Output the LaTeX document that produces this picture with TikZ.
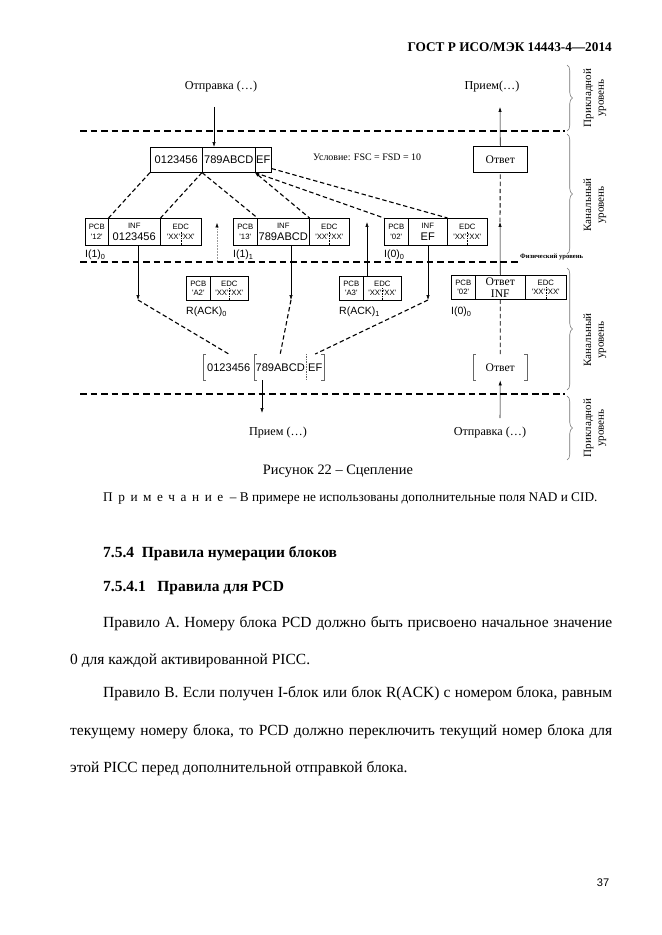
\documentclass[tikz,border=0pt]{standalone}
\usepackage{fontspec}
\setmainfont{Liberation Serif}
\setsansfont{Liberation Sans}
\usetikzlibrary{arrows.meta, decorations.pathreplacing, positioning}
\newlength{\pxl}
\setlength{\pxl}{0.3177mm}
\newcommand{\qt}[1]{\textquotesingle#1\textquotesingle}
\tikzset{
  cell/.style={draw, line width=0.5pt, inner sep=0pt, anchor=north west, align=center, font=\sffamily\fontsize{7}{8.5}\selectfont},
  frame/.style={cell, minimum height=25\pxl, font=\sffamily\fontsize{10}{12}\selectfont},
  blk/.style={cell, minimum height=27\pxl},
  ack/.style={cell, minimum height=24\pxl},
  brk/.style={line width=0.5pt, draw=black!60},
  lvl/.style={line width=1.1pt, dash pattern=on 6pt off 3.5pt},
  frag/.style={line width=1pt, dash pattern=on 4pt off 2.5pt},
  arr/.style={-{Latex[length=4.5pt,width=3pt]}, line width=0.5pt},
  lbl/.style={anchor=west, inner sep=0pt, font=\sffamily\fontsize{9.5}{11}\selectfont},
  appl/.style={inner sep=0pt, font=\fontsize{11}{13}\selectfont},
  lvlbrace/.style={decorate, decoration={brace, amplitude=5pt}, draw=black!55, line width=0.5pt},
  lvltext/.style={rotate=90, align=center, inner sep=0pt, font=\fontsize{10}{11.5}\selectfont},
  body/.style={anchor=base west, inner sep=0pt, font=\fontsize{14}{16}\selectfont},
}
\begin{document}
\begin{tikzpicture}[x=0.3177mm, y=-0.3177mm]
  \useasboundingbox (0,0) rectangle (661,935);
  \node[anchor=base east, inner sep=0pt, font=\bfseries\fontsize{12}{14}\selectfont] (head) at (612,52) {ГОСТ Р ИСО/МЭК 14443-4—2014};

  \coordinate (L1w) at (80,131);
  \coordinate (L1e) at (565,131);
  \coordinate (L2w) at (80,262);
  \coordinate (L2e) at (518,262);
  \coordinate (L3w) at (80,394);
  \coordinate (L3e) at (565,394);
  \draw[lvl] (L1w) -- (L1e);
  \draw[lvl] (L2w) -- (L2e);
  \draw[lvl] (L3w) -- (L3e);
  \node[anchor=west, inner sep=0pt, font=\bfseries\fontsize{6}{7}\selectfont] (phys) at (520,257) {Физический уровень};

  \draw[lvlbrace] (567,65) -- (567,131);
  \draw[lvlbrace] (567,134) -- (567,254);
  \draw[lvlbrace] (567,268) -- (567,390);
  \draw[lvlbrace] (567,396) -- (567,460);
  \node[lvltext] (br1) at (595,98) {Прикладной\\уровень};
  \node[lvltext] (br2) at (595,205) {Канальный\\уровень};
  \node[lvltext] (br3) at (595,340) {Канальный\\уровень};
  \node[lvltext] (br4) at (595,428) {Прикладной\\уровень};

  % top level
  \node[appl] (sendT) at (221,87) {Отправка (…)};
  \node[appl] (recvT) at (492,87) {Прием(…)};
  \coordinate (sendS) at (214,107);
  \coordinate (recvS) at (500,107);

  \node[frame, minimum width=52\pxl] (fA) at (150,147) {0123456};
  \node[frame, minimum width=53\pxl] (fB) at (202,147) {789ABCD};
  \node[frame, minimum width=16\pxl] (fC) at (255,147) {EF};
  \node[anchor=west, inner sep=0pt, font=\fontsize{9}{10}\selectfont] (cond) at (313,157) {Условие: FSC = FSD = 10};
  \node[cell, minimum width=54\pxl, minimum height=26\pxl, font=\fontsize{10.5}{12}\selectfont] (ansT) at (473,146) {Ответ};

  \draw[arr] (sendS) -- (sendS |- fB.north);
  \draw[arr] (ansT.north) -- (recvS);

  % I-blocks
  \node[blk, minimum width=23\pxl] (pcbA) at (85,218) {PCB\\\qt{12}};
  \node[blk, minimum width=52\pxl] (infA) at (108,218) {INF\\[2.5pt]{\fontsize{10}{11}\selectfont 0123456}};
  \node[blk, minimum width=41\pxl] (edcA) at (160,218) {EDC\\\qt{XX}\,\qt{XX}};
  \node[blk, minimum width=24\pxl] (pcbB) at (233,218) {PCB\\\qt{13}};
  \node[blk, minimum width=52\pxl] (infB) at (257,218) {INF\\[2.5pt]{\fontsize{10}{11}\selectfont 789ABCD}};
  \node[blk, minimum width=40\pxl] (edcB) at (309,218) {EDC\\\qt{XX}\,\qt{XX}};
  \node[blk, minimum width=24\pxl] (pcbC) at (384,218) {PCB\\\qt{02}};
  \node[blk, minimum width=39\pxl] (infC) at (408,218) {INF\\[2.5pt]{\fontsize{10}{11}\selectfont EF}};
  \node[blk, minimum width=40\pxl] (edcC) at (447,218) {EDC\\\qt{XX}\,\qt{XX}};
  \draw[densely dotted, line width=0.4pt] (edcA.center) -- (edcA.south);
  \draw[densely dotted, line width=0.4pt] (edcB.center) -- (edcB.south);
  \draw[densely dotted, line width=0.4pt] (edcC.center) -- (edcC.south);
  \node[lbl] (labA) at (85,255) {I(1)\textsubscript{0}};
  \node[lbl] (labB) at (233,255) {I(1)\textsubscript{1}};
  \node[lbl] (labC) at (384,255) {I(0)\textsubscript{0}};

  \draw[frag] (fA.south west) -- (pcbA.north east);
  \draw[frag] (fB.south west) -- (infA.north east);
  \draw[frag] (fB.south west) -- (pcbB.north east);
  \draw[frag, {Latex[length=4pt,width=3pt]}-] (fC.south west) -- (infB.north east);
  \draw[frag] (fC.south west) -- (pcbC.north west);
  \draw[frag] ([yshift=4\pxl]fC.south east) -- (infC.north east);

  % R(ACK) and answer blocks
  \node[ack, minimum width=24\pxl] (pcbR0) at (186,276) {PCB\\\qt{A2}};
  \node[ack, minimum width=38\pxl] (edcR0) at (210,276) {EDC\\\qt{XX}\,\qt{XX}};
  \node[ack, minimum width=24\pxl] (pcbR1) at (339,276) {PCB\\\qt{A3}};
  \node[ack, minimum width=38\pxl] (edcR1) at (363,276) {EDC\\\qt{XX}\,\qt{XX}};
  \node[ack, minimum width=24\pxl] (pcbI) at (451,275) {PCB\\\qt{02}};
  \node[ack, minimum width=50\pxl, font=\fontsize{10.5}{11}\selectfont] (respI) at (475,275) {Ответ\\INF};
  \node[ack, minimum width=41\pxl] (edcI) at (525,275) {EDC\\\qt{XX}\,\qt{XX}};
  \draw[densely dotted, line width=0.4pt] (edcR0.center) -- (edcR0.south);
  \draw[densely dotted, line width=0.4pt] (edcR1.center) -- (edcR1.south);
  \draw[densely dotted, line width=0.4pt] (edcI.center) -- (edcI.south);
  \node[lbl] (labR0) at (186,312) {R(ACK)\textsubscript{0}};
  \node[lbl] (labR1) at (339,312) {R(ACK)\textsubscript{1}};
  \node[lbl] (labI) at (451,312) {I(0)\textsubscript{0}};

  \coordinate (up0) at (217,223);
  \coordinate (up0b) at (217,262);
  \coordinate (up1) at (367,222);
  \coordinate (up2) at (500,222);
  \coordinate (d1) at (138,300);
  \coordinate (d2) at (291,300);
  \coordinate (d3) at (428,300);
  \draw[densely dotted, draw=black!40, line width=0.4pt, -{Latex[length=4pt,width=3pt,color=black]}] (up0b) -- (up0);
  \draw[arr] (up1 |- edcR1.north) -- (up1);
  \draw[arr] (respI.north) -- (up2);
  \draw[frag, line width=0.8pt] (up2) -- (ansT.south);
  \draw[arr] (d1 |- infA.south) -- (d1);
  \draw[arr] (d2 |- infB.south) -- (d2);
  \draw[arr] (infC.south -| d3) -- (d3);

  % reassembled frame
  \node[inner sep=0pt, minimum width=51\pxl, minimum height=26\pxl, anchor=north west, font=\sffamily\fontsize{10}{12}\selectfont] (rA) at (203,354) {0123456};
  \node[inner sep=0pt, minimum width=52\pxl, minimum height=26\pxl, anchor=north west, font=\sffamily\fontsize{10}{12}\selectfont] (rB) at (254,354) {789ABCD};
  \node[inner sep=0pt, minimum width=18\pxl, minimum height=26\pxl, anchor=north west, font=\sffamily\fontsize{10}{12}\selectfont] (rC) at (306,354) {EF};
  \draw[brk] ([xshift=3\pxl]rA.north west) -- (rA.north west) -- (rA.south west) -- ([xshift=3\pxl]rA.south west);
  \draw[brk] ([xshift=3\pxl]rB.north west) -- (rB.north west) -- (rB.south west) -- ([xshift=3\pxl]rB.south west);
  \draw[brk, densely dotted] (rC.north west) -- (rC.south west);
  \draw[brk] ([xshift=-3\pxl]rC.north east) -- (rC.north east) -- (rC.south east) -- ([xshift=-3\pxl]rC.south east);
  \node[inner sep=0pt, minimum width=54\pxl, minimum height=26\pxl, anchor=north west, font=\fontsize{10.5}{12}\selectfont] (rAns) at (473,354) {Ответ};
  \draw[brk] ([xshift=3\pxl]rAns.north west) -- (rAns.north west) -- (rAns.south west) -- ([xshift=3\pxl]rAns.south west);
  \draw[brk] ([xshift=-3\pxl]rAns.north east) -- (rAns.north east) -- (rAns.south east) -- ([xshift=-3\pxl]rAns.south east);

  \draw[frag] (d1) -- (rA.north);
  \draw[frag] (d2) -- (rB.north);
  \draw[frag] (d3) -- (rC.north);
  \draw[frag, line width=0.8pt] (respI.south) -- (rAns.north);

  % bottom level
  \node[appl] (recvB) at (278,433) {Прием (…)};
  \node[appl] (sendB) at (490,433) {Отправка (…)};
  \coordinate (recvE) at (262,413);
  \coordinate (sendE) at (500,418);
  \draw[arr] (recvE |- rB.south) -- (recvE);
  \draw[arr] (sendE) -- (rAns.south);

  \node[font=\fontsize{13}{15}\selectfont, inner sep=0pt] (cap) at (338,471) {Рисунок 22 – Сцепление};
  \node[anchor=base west, inner sep=0pt, font=\fontsize{12}{14}\selectfont] (note) at (103,501) {П\,\ р\,\ и\,\ м\,\ е\,\ ч\,\ а\,\ н\,\ и\,\ е\ \ – В примере не использованы дополнительные поля NAD и CID.};

  \node[body, font=\bfseries\fontsize{14}{16}\selectfont] (sec) at (103,557) {7.5.4\ \ Правила нумерации блоков};
  \node[body, font=\bfseries\fontsize{14}{16}\selectfont] (subsec) at (103,591) {7.5.4.1\ \ \ Правила для PCD};
  \node[body] (p1) at (103,627) {\makebox[509\pxl][s]{Правило А. Номеру блока PCD должно быть присвоено начальное значение}};
  \node[body] (p2) at (70,664) {0 для каждой активированной PICC.};
  \node[body] (p3) at (103,697) {\makebox[509\pxl][s]{Правило В. Если получен I-блок или блок R(ACK) с номером блока, равным}};
  \node[body] (p4) at (70,735) {\makebox[542\pxl][s]{текущему номеру блока, то PCD должно переключить текущий номер блока для}};
  \node[body] (p5) at (70,772) {этой PICC перед дополнительной отправкой блока.};
  \node[font=\sffamily\fontsize{10}{12}\selectfont, inner sep=0pt] (pnum) at (603,883) {37};
\end{tikzpicture}
\end{document}
